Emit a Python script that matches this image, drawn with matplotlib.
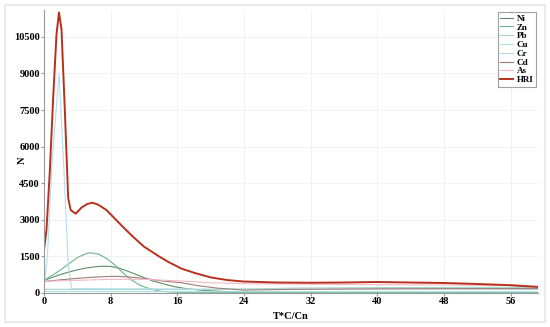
import matplotlib.pyplot as plt
import matplotlib.patches as mpatches

# values
hri_x = [0, 0.3, 0.7, 1.1, 1.5, 1.8, 2.1, 2.5, 2.9, 3.2, 3.8, 4.5, 5.2, 5.8, 6.5, 7.5,
         8.5, 9.5, 10.7, 12, 13.9, 15, 16.5, 18, 20, 22, 24, 28, 32, 36, 40, 44, 48, 52, 56, 59.3]
hri_y = [1760, 2600, 5000, 8000, 10600, 11500, 10800, 7500, 3900, 3400, 3250, 3500, 3650, 3700,
         3620, 3400, 3050, 2700, 2300, 1900, 1480, 1260, 1000, 830, 640, 530, 470, 430, 420,
         430, 450, 430, 410, 370, 320, 250]

zn_x = [0, 1, 2, 3, 4, 5, 5.5, 6.5, 7.5, 8.5, 9.5, 10.5, 11.5, 12.7, 14, 16, 20, 30, 59.3]
zn_y = [530, 720, 950, 1200, 1450, 1610, 1650, 1600, 1420, 1150, 820, 530, 320, 170, 70, 30, 20, 20, 20]

ni_x = [0, 1, 2, 3, 4, 5, 6, 7, 8, 9, 10, 11.5, 13, 15.5, 17, 19, 21, 24, 30, 59.3]
ni_y = [520, 640, 760, 860, 950, 1020, 1070, 1100, 1090, 1020, 900, 700, 500, 270, 180, 110, 70, 40, 30, 20]

cd_x = [0, 2, 4, 6, 8, 9, 10, 12, 14, 16.5, 18.5, 20.8, 24, 30, 40, 50, 59.3]
cd_y = [470, 540, 600, 650, 680, 680, 660, 600, 500, 420, 300, 200, 120, 150, 170, 180, 180]

cr_x = [0, 0.4, 1.0, 1.8, 2.4, 2.9, 3.3, 10, 20, 30, 40, 50, 59.3]
cr_y = [180, 1500, 5500, 9000, 5000, 1200, 180, 170, 160, 160, 160, 160, 150]

pb_x = [0, 10, 20, 30, 40, 50, 59.3]
pb_y = [150, 150, 140, 200, 220, 230, 230]

cu_x = [0, 10, 20, 30, 40, 50, 59.3]
cu_y = [60, 60, 50, 50, 50, 50, 50]

as_x = [0, 4, 8, 12, 16, 20, 24, 32, 40, 48, 56, 59.3]
as_y = [480, 520, 560, 560, 500, 420, 380, 360, 340, 330, 300, 240]

xticks = [0, 8, 16, 24, 32, 40, 48, 56]
yticks = [0, 1500, 3000, 4500, 6000, 7500, 9000, 10500]

plt.rcParams['font.family'] = ['Liberation Serif', 'DejaVu Serif']
plt.rcParams['font.weight'] = 'bold'

fig = plt.figure(figsize=(5.5, 3.27), dpi=100)
ax = fig.add_axes([44 / 550, 1 - 293 / 327, (538 - 44) / 550, (293 - 10) / 327])

# light outer frame like the source image
fig.patches.append(mpatches.Rectangle((5 / 550, 5 / 327), 540 / 550, 317 / 327,
                                      transform=fig.transFigure, fill=False,
                                      edgecolor='#e6e6e6', linewidth=1.2))

lines = [
    (ni_x, ni_y, 'Ni', '#5f8f6a'),
    (zn_x, zn_y, 'Zn', '#6fb58a'),
    (pb_x, pb_y, 'Pb', '#9fd8c4'),
    (cu_x, cu_y, 'Cu', '#a8e4e4'),
    (cr_x, cr_y, 'Cr', '#b4dcf0'),
    (cd_x, cd_y, 'Cd', '#a07e72'),
    (as_x, as_y, 'As', '#f2b8c8'),
    (hri_x, hri_y, 'HRI', '#b8301c'),
]
for xs, ys, name, c in lines:
    lw = 1.4 if name == 'HRI' else 0.8
    ax.plot(xs, ys, color=c, lw=lw, label=name)

ax.set_xlim(0, 59.3)
ax.set_ylim(0, 11600)
ax.set_xticks(xticks)
ax.set_yticks(yticks)
ax.grid(True, color='#f2f2f2', lw=0.8)
ax.set_axisbelow(True)
for s in ['top', 'right']:
    ax.spines[s].set_visible(False)
for s in ['left', 'bottom']:
    ax.spines[s].set_color('#9a9a9a')
    ax.spines[s].set_linewidth(0.8)
ax.tick_params(labelsize=7.5, length=2, color='#9a9a9a', pad=1)
ax.set_xlabel('T*C/Cn', fontsize=7.5, fontweight='bold', labelpad=4)
ax.set_ylabel('N', fontsize=7.5, fontweight='bold')
ax.yaxis.set_label_coords(-0.034, 0.47)

leg = ax.legend(loc='upper right', bbox_to_anchor=(1.0, 1.0), fontsize=6.5, frameon=True,
                fancybox=False, handlelength=1.4, handletextpad=0.4, labelspacing=0.05,
                borderpad=0.3, borderaxespad=0.2)
leg.get_frame().set_edgecolor('#888888')
leg.get_frame().set_linewidth(0.8)

fig.savefig('out.png', dpi=100)
